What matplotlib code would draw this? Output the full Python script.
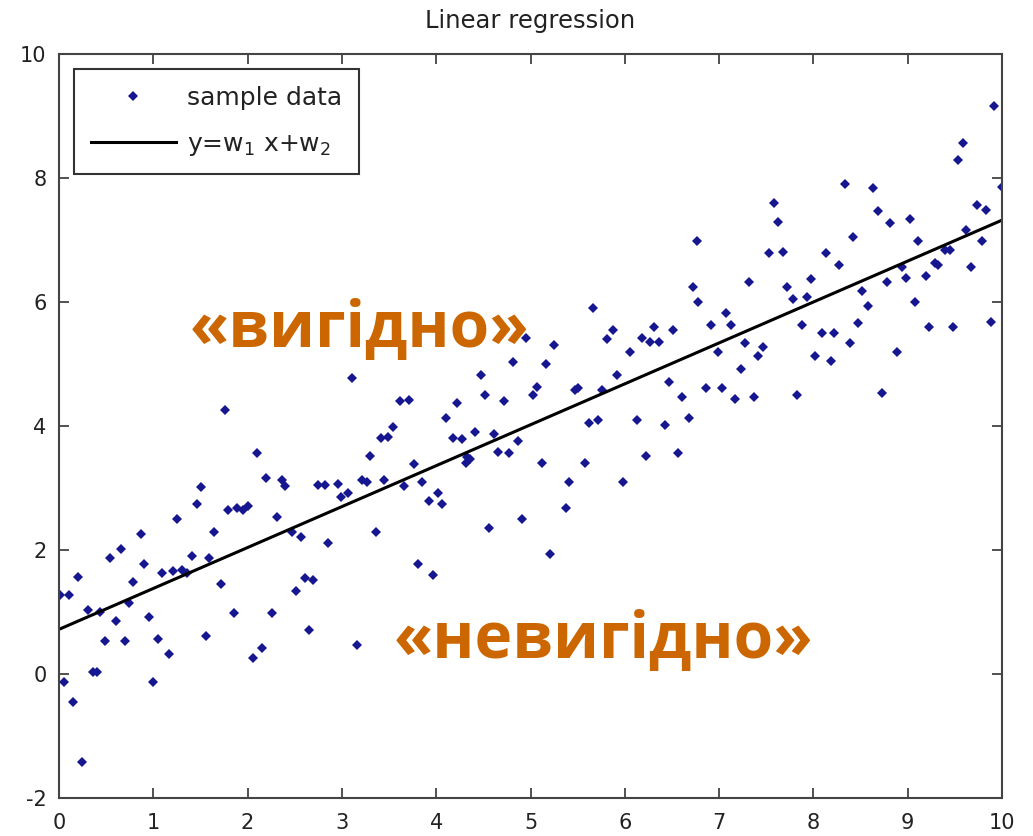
import matplotlib
matplotlib.use("Agg")
import matplotlib.pyplot as plt
from matplotlib import font_manager
import numpy as np

plt.rcParams["axes.unicode_minus"] = False
plt.rcParams["mathtext.default"] = "regular"

# ---- data ----
x_data = [0.01, 0.11, 0.20, 0.05, 0.15, 0.24, 0.31, 0.36, 0.40, 0.43, 0.49, 0.54, 0.60, 0.66, 0.70, 0.74,
          0.78, 0.87, 0.90, 0.95, 1.00, 1.05, 1.09, 1.17, 1.21, 1.25, 1.30, 1.36, 1.41, 1.46, 1.51, 1.56,
          1.59, 1.64, 1.72, 1.86, 1.79, 1.89, 1.95, 2.00, 2.06, 2.10, 2.15, 2.20, 2.26, 2.31, 2.37, 2.40,
          2.47, 2.51, 2.57, 2.61, 2.69, 2.65, 2.75, 2.82, 2.85, 2.96, 2.99, 3.06, 3.16, 3.21, 3.27, 3.30,
          3.36, 3.41, 3.45, 1.76, 3.11,
          4.95, 5.25, 4.81, 5.16, 4.48, 4.52, 5.07, 5.03, 4.72, 4.22, 4.10, 3.62, 3.71, 3.54, 5.66, 5.87,
          5.81, 6.31, 6.51, 6.18, 6.27, 6.36, 6.06, 5.92, 5.47, 5.50, 5.76, 6.47, 6.61, 5.62, 5.72, 6.13,
          6.43, 6.68, 6.77, 6.72, 6.78,
          9.92, 9.59, 9.53, 10.0, 8.34, 8.63, 7.58, 8.69, 7.62, 8.81, 9.02, 9.73, 9.83, 8.42, 9.62, 9.11,
          9.79, 7.53, 7.68, 8.13, 8.27, 9.40, 9.45, 9.29, 9.32, 8.94, 9.67, 7.32, 7.97, 8.98, 8.78, 9.19,
          7.72, 7.78, 7.93, 8.52, 9.08, 7.07, 8.58, 6.91, 7.13, 7.88, 8.47, 9.23, 9.48, 9.88, 8.09, 8.22,
          7.27, 6.99, 7.47, 7.41, 8.39, 8.02, 8.19, 8.89, 7.23, 6.86, 7.03, 7.17, 7.37, 7.83, 8.73,
          3.49, 4.18, 4.27, 4.41, 4.61, 4.87, 4.66, 4.77, 4.33, 4.36, 4.32, 3.76, 5.12, 5.58, 6.22, 6.56,
          3.66, 3.85, 4.02, 3.92, 4.06, 5.41, 5.98, 5.38, 4.56, 4.91, 5.21, 3.81, 3.97]
y_data = [1.27, 1.27, 1.56, -0.13, -0.45, -1.42, 1.03, 0.03, 0.03, 1.00, 0.53, 1.87, 0.85, 2.02, 0.53, 1.14,
          1.48, 2.26, 1.77, 0.92, -0.13, 0.56, 1.63, 0.32, 1.66, 2.50, 1.68, 1.63, 1.90, 2.74, 3.02, 0.61,
          1.87, 2.29, 1.45, 0.98, 2.65, 2.68, 2.65, 2.71, 0.26, 3.56, 0.42, 3.16, 0.98, 2.53, 3.13, 3.03,
          2.29, 1.34, 2.21, 1.55, 1.52, 0.71, 3.05, 3.05, 2.11, 3.06, 2.85, 2.92, 0.47, 3.13, 3.10, 3.52,
          2.29, 3.80, 3.13, 4.26, 4.77,
          5.42, 5.31, 5.03, 5.00, 4.82, 4.50, 4.63, 4.50, 4.40, 4.37, 4.13, 4.40, 4.42, 3.98, 5.90, 5.55,
          5.40, 5.60, 5.55, 5.42, 5.35, 5.35, 5.19, 4.82, 4.58, 4.61, 4.58, 4.71, 4.47, 4.05, 4.10, 4.10,
          4.02, 4.13, 6.98, 6.24, 6.00,
          9.16, 8.56, 8.29, 7.85, 7.90, 7.84, 7.60, 7.47, 7.29, 7.27, 7.34, 7.56, 7.48, 7.05, 7.16, 6.98,
          6.98, 6.79, 6.81, 6.79, 6.60, 6.84, 6.84, 6.63, 6.60, 6.56, 6.56, 6.32, 6.37, 6.39, 6.32, 6.42,
          6.24, 6.05, 6.08, 6.18, 6.00, 5.82, 5.94, 5.63, 5.63, 5.63, 5.66, 5.60, 5.60, 5.68, 5.50, 5.50,
          5.34, 5.19, 5.27, 5.13, 5.34, 5.13, 5.05, 5.19, 4.92, 4.61, 4.61, 4.44, 4.47, 4.50, 4.53,
          3.82, 3.81, 3.79, 3.90, 3.87, 3.76, 3.58, 3.56, 3.50, 3.47, 3.40, 3.39, 3.40, 3.40, 3.52, 3.56,
          3.03, 3.10, 2.92, 2.79, 2.74, 3.10, 3.10, 2.68, 2.35, 2.50, 1.94, 1.77, 1.60]

w1 = 0.66
w2 = 0.72
line_x = [0, 10]

x_ticks = [0, 1, 2, 3, 4, 5, 6, 7, 8, 9, 10]
y_ticks = [-2, 0, 2, 4, 6, 8, 10]

title = "Linear regression"
label_scatter = "sample data"
label_line = "y=w$_1$ x+w$_2$"
text_good = "«вигідно»"
text_bad = "«невигідно»"

# ---- fonts ----
try:
    font_manager.findfont("Liberation Sans Narrow", fallback_to_default=False)
    tick_family, tick_size = "Liberation Sans Narrow", 20
except Exception:
    tick_family, tick_size = "DejaVu Sans", 15

# ---- figure ----
fig = plt.figure(figsize=(10.33, 8.36), dpi=100)
ax = fig.add_axes([59 / 1033, 1 - 798 / 836, (1002 - 59) / 1033, (798 - 54) / 836])

ax.plot(x_data, y_data, linestyle="none", marker="D", markersize=5.5,
        color="#161690", markeredgewidth=0, label=label_scatter)
lx = np.array(line_x, dtype=float)
ax.plot(lx, w1 * lx + w2, color="black", linewidth=2.2, label=label_line)

ax.set_xlim(0, 10)
ax.set_ylim(-2, 10)
ax.set_xticks(x_ticks)
ax.set_yticks(y_ticks)
ax.tick_params(direction="in", length=7, width=1.2, colors="#333333",
               top=True, right=True, labelcolor="#222222")
ax.tick_params(axis="x", pad=11)
ax.tick_params(axis="y", pad=9)
for lab in ax.get_xticklabels() + ax.get_yticklabels():
    lab.set_fontfamily(tick_family)
    lab.set_fontsize(tick_size)
for s in ax.spines.values():
    s.set_color("#444444")
    s.set_linewidth(1.5)

ax.set_title(title, fontsize=17.5, color="#222222", pad=19)

leg = ax.legend(loc="upper left", bbox_to_anchor=(0.016, 0.98), borderaxespad=0,
                fontsize=18, numpoints=1, handlelength=3.4, handletextpad=0.44,
                borderpad=0.67, labelspacing=0.88, fancybox=False, framealpha=1,
                edgecolor="#333333")
leg.get_frame().set_linewidth(1.5)
for t in leg.get_texts():
    t.set_color("#222222")

orange = "#CC6600"
fig.text(359 / 1033, 1 - 347 / 836, text_good, family=["Open Sans", "DejaVu Sans"],
         fontweight="bold", fontsize=46, color=orange, ha="center", va="baseline")
fig.text(603 / 1033, 1 - 658 / 836, text_bad, family=["Open Sans", "DejaVu Sans"],
         fontweight="bold", fontsize=46, color=orange, ha="center", va="baseline")

fig.savefig("out.png", dpi=100, facecolor="white")
